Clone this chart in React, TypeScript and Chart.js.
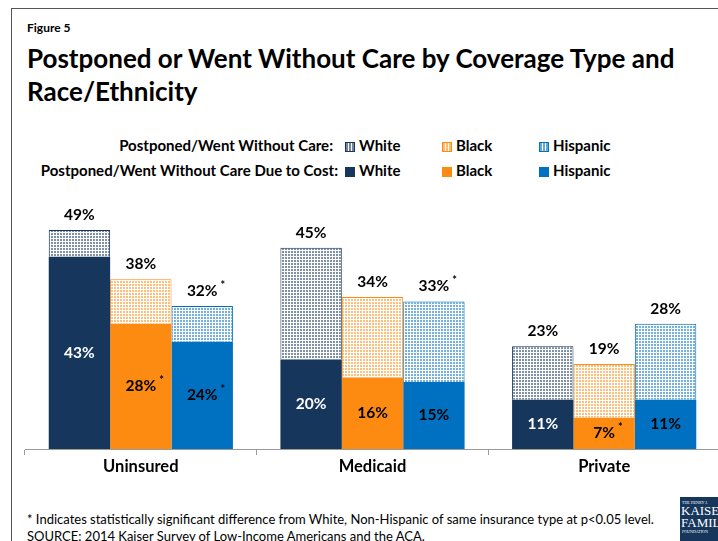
import React, { useEffect, useRef } from "react";
import { Chart, registerables } from "chart.js";

Chart.register(...registerables);

const categories = ["Uninsured", "Medicaid", "Private"];
const whiteTotal = [49, 45, 23];
const whiteCost = [43, 20, 11];
const blackTotal = [38, 34, 19];
const blackCost = [28, 16, 7];
const hispTotal = [32, 33, 28];
const hispCost = [24, 15, 11];
const whiteTotalStar = [false, false, false];
const blackTotalStar = [false, false, false];
const hispTotalStar = [true, true, false];
const whiteCostStar = [false, false, false];
const blackCostStar = [true, false, true];
const hispCostStar = [true, false, false];

const NAVY = "#16365c";
const ORANGE = "#fd8b12";
const BLUE = "#0070c0";
const FONT = "Lato, 'Open Sans', sans-serif";

function makePattern(color: string) {
  const c = document.createElement("canvas");
  c.width = 3;
  c.height = 3;
  const ctx = c.getContext("2d")!;
  ctx.fillStyle = "#ffffff";
  ctx.fillRect(0, 0, 3, 3);
  ctx.globalAlpha = 0.55;
  ctx.fillStyle = color;
  ctx.fillRect(0, 0, 2, 2);
  return ctx.createPattern(c, "repeat")!;
}

export default function App() {
  const ref = useRef<HTMLCanvasElement>(null);
  useEffect(() => {
    const races = [
      { total: whiteTotal, cost: whiteCost, ts: whiteTotalStar, cs: whiteCostStar, color: NAVY, stack: "w", inner: "#ffffff" },
      { total: blackTotal, cost: blackCost, ts: blackTotalStar, cs: blackCostStar, color: ORANGE, stack: "b", inner: "#000000" },
      { total: hispTotal, cost: hispCost, ts: hispTotalStar, cs: hispCostStar, color: BLUE, stack: "h", inner: "#000000" },
    ];
    const datasets: any[] = [];
    races.forEach((r) => {
      datasets.push({
        data: r.cost,
        backgroundColor: r.color,
        borderWidth: 0,
        stack: r.stack,
      });
      datasets.push({
        data: r.total.map((t, i) => t - r.cost[i]),
        backgroundColor: makePattern(r.color),
        borderColor: r.color,
        borderWidth: { top: 1, left: 1, right: 1, bottom: 0 },
        stack: r.stack,
      });
    });

    const labelPlugin = {
      id: "labels",
      afterDatasetsDraw(chart: any) {
        const ctx = chart.ctx;
        ctx.save();
        ctx.font = `bold 15.5px ${FONT}`;
        ctx.textBaseline = "middle";
        ctx.textAlign = "center";
        races.forEach((r, ri) => {
          const costMeta = chart.getDatasetMeta(ri * 2);
          const restMeta = chart.getDatasetMeta(ri * 2 + 1);
          categories.forEach((_, i) => {
            const cb = costMeta.data[i];
            const rb = restMeta.data[i];
            const drawStar = (txt: string, x: number, y: number) => {
              const w = ctx.measureText(txt).width;
              ctx.save();
              ctx.font = `bold 11px ${FONT}`;
              ctx.textAlign = "left";
              ctx.fillText("*", x + w / 2 + 3, y - 6);
              ctx.restore();
            };
            const cy = (cb.y + cb.base) / 2;
            ctx.fillStyle = r.inner;
            const ct = `${r.cost[i]}%`;
            ctx.fillText(ct, cb.x, cy);
            if (r.cs[i]) drawStar(ct, cb.x, cy);
            const ty = rb.y - 15;
            ctx.fillStyle = "#000000";
            const tt = `${r.total[i]}%`;
            ctx.fillText(tt, rb.x, ty);
            if (r.ts[i]) drawStar(tt, rb.x, ty);
          });
        });
        ctx.restore();
      },
    };

    const chart = new Chart(ref.current!, {
      type: "bar",
      data: { labels: categories, datasets },
      options: {
        animation: false,
        responsive: false,
        maintainAspectRatio: false,
        layout: { padding: { left: 25, right: 20, top: 25.5, bottom: 0 } },
        plugins: { legend: { display: false }, tooltip: { enabled: false } },
        datasets: { bar: { categoryPercentage: 0.795, barPercentage: 1 } },
        scales: {
          x: {
            stacked: true,
            grid: { display: true, drawOnChartArea: false, drawTicks: true, tickLength: 6, color: "#9a9a9a", offset: true },
            border: { display: true, color: "#9a9a9a", width: 1 },
            ticks: { color: "#000000", font: { family: FONT, size: 16.5, weight: "bold" }, padding: 2 },
            afterFit: (s: any) => { s.height = 41; },
          },
          y: {
            stacked: true,
            display: false,
            min: 0,
            max: 50,
          },
        },
      },
      plugins: [labelPlugin],
    });
    return () => chart.destroy();
  }, []);

  const swatch = (bg: any, border?: string) => (
    <span style={{ display: "inline-block", width: 10, height: 10, background: bg, border: border ? `1px solid ${border}` : "none", boxSizing: "border-box", marginRight: 4, verticalAlign: "-1px" }} />
  );
  const pat = (c: string) => `repeating-linear-gradient(90deg, ${c}99 0 2px, #fff 2px 3px)`;

  const legendText: React.CSSProperties = { position: "absolute", font: `bold 15px ${FONT}`, color: "#000", whiteSpace: "nowrap" };

  return (
    <div style={{ position: "absolute", left: 0, top: 0, width: 718, height: 541, overflow: "hidden", background: "#fff", fontFamily: FONT }}>
      <div style={{ position: "absolute", left: 11, top: 8, width: 720, height: 1, background: "#555" }} />
      <div style={{ position: "absolute", left: 11, top: 8, width: 1, height: 540, background: "#555" }} />
      <div style={{ position: "absolute", left: 27, top: 20, font: `bold 12px ${FONT}` }}>Figure 5</div>
      <div style={{ position: "absolute", left: 27, top: 42, font: `bold 26px ${FONT}`, lineHeight: "33px", color: "#000", whiteSpace: "nowrap" }}>
        Postponed or Went Without Care by Coverage Type and
        <br />
        Race/Ethnicity
      </div>
      <div style={{ ...legendText, right: 718 - 333, top: 136 }}>Postponed/Went Without Care:</div>
      <div style={{ ...legendText, right: 718 - 338, top: 161 }}>Postponed/Went Without Care Due to Cost:</div>
      <div style={{ ...legendText, left: 345, top: 136 }}>{swatch(pat(NAVY), NAVY)}White</div>
      <div style={{ ...legendText, left: 442, top: 136 }}>{swatch(pat(ORANGE), ORANGE)}Black</div>
      <div style={{ ...legendText, left: 539, top: 136 }}>{swatch(pat(BLUE), BLUE)}Hispanic</div>
      <div style={{ ...legendText, left: 345, top: 161 }}>{swatch(NAVY)}White</div>
      <div style={{ ...legendText, left: 442, top: 161 }}>{swatch(ORANGE)}Black</div>
      <div style={{ ...legendText, left: 539, top: 161 }}>{swatch(BLUE)}Hispanic</div>
      <canvas ref={ref} width={740} height={290} style={{ position: "absolute", left: 0, top: 200, width: 740, height: 290 }} />
      <div style={{ position: "absolute", left: 27, top: 511, font: `13px ${FONT}`, lineHeight: "17px", color: "#000", whiteSpace: "nowrap" }}>
        * Indicates statistically significant difference from White, Non-Hispanic of same insurance type at p&lt;0.05 level.
        <br />
        SOURCE: 2014 Kaiser Survey of Low-Income Americans and the ACA.
      </div>
      <div style={{ position: "absolute", left: 680, top: 497, width: 40, height: 44, background: "#16365c", color: "#fff", fontFamily: "'Liberation Serif', serif", overflow: "hidden" }}>
        <div style={{ fontSize: 4, marginTop: 3, marginLeft: 2 }}>THE HENRY J.</div>
        <div style={{ fontSize: 13, lineHeight: "12px", marginLeft: 1 }}>KAISER</div>
        <div style={{ fontSize: 13, lineHeight: "12px", marginLeft: 1 }}>FAMILY</div>
        <div style={{ fontSize: 4, marginLeft: 2 }}>FOUNDATION</div>
      </div>
    </div>
  );
}
